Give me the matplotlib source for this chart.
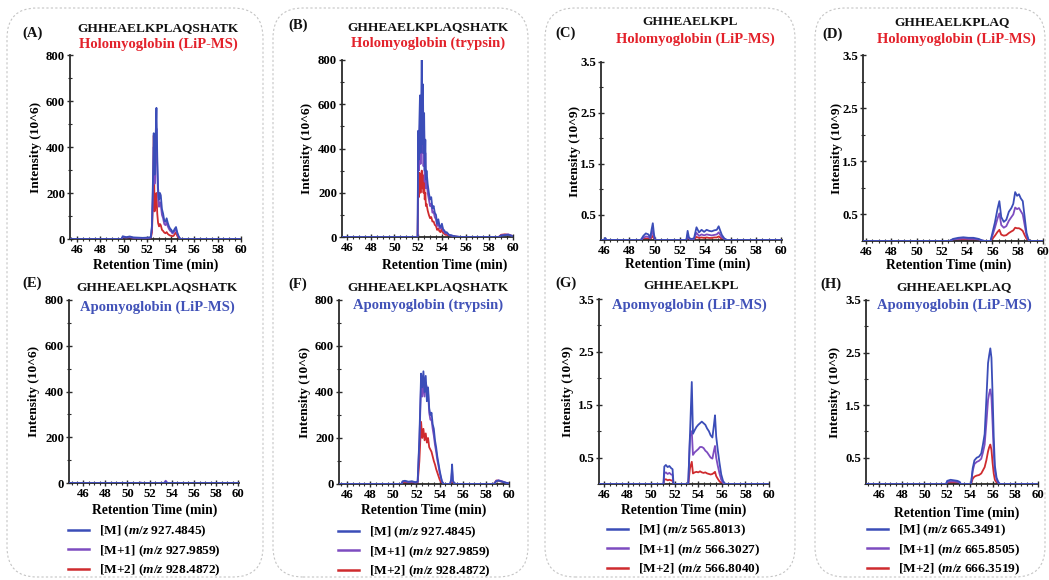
import matplotlib
matplotlib.use('Agg')
import matplotlib.pyplot as plt
from matplotlib.patches import FancyBboxPatch
from matplotlib.transforms import IdentityTransform
from matplotlib.ticker import MultipleLocator, FixedLocator

# ---------------- data ----------------
# Panel A: GHHEAELKPLAQSHATK, Holomyoglobin (LiP-MS), intensity 10^6
tA = [45.4, 49.8, 49.9, 50.2, 50.5, 50.8, 51.2, 51.6, 52.0, 52.3, 52.4, 52.5, 52.55, 52.62, 52.7, 52.78, 52.85, 52.92, 53.0, 53.08,
      53.15, 53.25, 53.35, 53.45, 53.55, 53.65, 53.75, 53.85, 53.95, 54.05, 54.15, 54.25, 54.35, 54.45, 54.55, 54.65, 54.75, 54.85, 60.0]
A0 = [0, 0, 12, 8, 11, 7, 6, 5, 6, 8, 60, 300, 460, 280, 420, 570, 360, 220, 170, 200,
      190, 130, 110, 80, 75, 90, 70, 55, 45, 40, 30, 35, 45, 52, 30, 15, 5, 0, 0]
A1 = [0, 0, 8, 6, 8, 5, 4, 4, 4, 6, 50, 250, 400, 240, 360, 480, 300, 180, 140, 160,
      150, 105, 90, 65, 60, 72, 55, 44, 36, 32, 24, 28, 36, 42, 24, 12, 4, 0, 0]
A2 = [0, 0, 4, 3, 4, 2, 2, 2, 2, 3, 30, 200, 450, 120, 140, 200, 110, 70, 55, 65,
      60, 40, 35, 28, 25, 30, 22, 18, 15, 14, 12, 14, 22, 28, 14, 6, 2, 0, 0]

# Panel B: GHHEAELKPLAQSHATK, Holomyoglobin (trypsin), intensity 10^6
tB = [45.6, 51.95, 52.0, 52.05, 52.1, 52.15, 52.2, 52.25, 52.3, 52.35, 52.4, 52.45, 52.5, 52.55, 52.6, 52.65, 52.7, 52.8, 52.9, 53.0,
      53.1, 53.2, 53.3, 53.4, 53.5, 53.6, 53.7, 53.8, 53.9, 54.0, 54.1, 54.2, 54.3, 54.4, 54.6, 54.8, 55.0, 55.3, 55.6, 58.8,
      59.0, 59.3, 59.6, 59.9]
B0 = [0, 0, 480, 350, 520, 640, 380, 560, 830, 420, 690, 380, 560, 300, 440, 260, 300, 240, 200, 170,
      180, 130, 140, 110, 100, 60, 80, 50, 45, 60, 35, 30, 20, 22, 10, 8, 4, 2, 0, 0,
      6, 8, 10, 5]
B1 = [0, 0, 400, 300, 450, 520, 330, 480, 600, 380, 650, 320, 480, 250, 380, 220, 260, 200, 170, 140,
      150, 110, 115, 90, 80, 50, 65, 40, 38, 50, 28, 25, 16, 18, 8, 6, 3, 1, 0, 0,
      8, 10, 12, 6]
B2 = [0, 0, 200, 180, 290, 250, 200, 260, 300, 220, 280, 200, 250, 170, 200, 140, 150, 120, 100, 85,
      90, 70, 70, 55, 50, 32, 38, 25, 22, 40, 18, 15, 10, 10, 5, 3, 2, 1, 0, 0,
      10, 12, 10, 5]

# Panel C: GHHEAELKPL, Holomyoglobin (LiP-MS), intensity 10^9
tC = [45.75, 46.0, 46.1, 46.2, 48.9, 49.1, 49.3, 49.5, 49.65, 49.75, 49.85, 49.95, 50.05, 52.5, 52.6, 52.7, 52.85, 53.1, 53.3, 53.4,
      53.5, 53.7, 53.9, 54.1, 54.3, 54.5, 54.7, 54.9, 55.05, 55.15, 55.3, 55.5, 55.7, 60.0]
C0 = [0, 0, 0.04, 0, 0, 0.08, 0.13, 0.11, 0.05, 0.2, 0.33, 0.1, 0, 0, 0.18, 0.05, 0.02, 0.03, 0.25, 0.2,
      0.15, 0.2, 0.16, 0.2, 0.18, 0.17, 0.19, 0.2, 0.27, 0.2, 0.1, 0.03, 0, 0]
C1 = [0, 0, 0.02, 0, 0, 0.04, 0.07, 0.06, 0.03, 0.11, 0.18, 0.05, 0, 0, 0.1, 0.03, 0.01, 0.02, 0.14, 0.11,
      0.08, 0.11, 0.09, 0.11, 0.1, 0.09, 0.1, 0.11, 0.15, 0.11, 0.05, 0.02, 0, 0]
C2 = [0, 0, 0.01, 0, 0, 0.02, 0.03, 0.03, 0.01, 0.05, 0.08, 0.02, 0, 0, 0.04, 0.01, 0, 0.01, 0.06, 0.05,
      0.04, 0.05, 0.04, 0.05, 0.04, 0.04, 0.05, 0.05, 0.07, 0.05, 0.02, 0.01, 0, 0]

# Panel D: GHHEAELKPLAQ, Holomyoglobin (LiP-MS), intensity 10^9
tD = [45.8, 52.6, 52.9, 53.3, 53.7, 54.1, 54.5, 54.9, 55.2, 55.4, 55.85, 56.0, 56.2, 56.4, 56.55, 56.7, 56.9, 57.1, 57.3, 57.5,
      57.65, 57.8, 57.95, 58.1, 58.25, 58.4, 58.55, 58.7, 58.85, 59.0, 60.0]
D0 = [0, 0, 0.04, 0.06, 0.07, 0.06, 0.06, 0.04, 0.01, 0, 0, 0.15, 0.35, 0.6, 0.75, 0.45, 0.36, 0.4, 0.55, 0.62,
      0.7, 0.92, 0.85, 0.88, 0.8, 0.75, 0.45, 0.15, 0.03, 0, 0]
D1 = [0, 0, 0.03, 0.04, 0.05, 0.04, 0.04, 0.03, 0.01, 0, 0, 0.1, 0.25, 0.42, 0.52, 0.3, 0.25, 0.28, 0.38, 0.45,
      0.5, 0.63, 0.6, 0.62, 0.56, 0.5, 0.3, 0.1, 0.02, 0, 0]
D2 = [0, 0, 0.01, 0.02, 0.02, 0.02, 0.02, 0.01, 0, 0, 0, 0.04, 0.1, 0.17, 0.21, 0.12, 0.1, 0.11, 0.15, 0.18,
      0.2, 0.25, 0.24, 0.24, 0.22, 0.19, 0.11, 0.04, 0.01, 0, 0]

# Panel E: GHHEAELKPLAQSHATK, Apomyoglobin (LiP-MS), intensity 10^6
tE = [44.75, 51.1, 51.2, 51.3, 53.3, 53.45, 53.6, 60.0]
E0 = [0, 0, 1, 0, 0, 4, 0, 0]
E1 = [0, 0, 2, 0, 0, 10, 0, 0]
E2 = [0, 0, 1, 0, 0, 3, 0, 0]

# Panel F: GHHEAELKPLAQSHATK, Apomyoglobin (trypsin), intensity 10^6
tF = [45.3, 50.7, 50.8, 51.0, 51.3, 51.6, 51.9, 52.1, 52.25, 52.4, 52.5, 52.6, 52.7, 52.8, 52.9, 53.0, 53.1, 53.2, 53.3, 53.4,
      53.5, 53.6, 53.7, 53.8, 53.9, 54.0, 54.1, 54.2, 54.35, 54.9, 55.0, 55.08, 55.15, 55.25, 55.4, 58.7, 58.9, 59.1, 59.4, 59.7,
      60.0]
F0 = [0, 0, 12, 14, 10, 12, 8, 10, 200, 480, 420, 490, 400, 470, 360, 420, 330, 300, 310, 260,
      240, 190, 160, 120, 90, 60, 35, 12, 0, 0, 20, 85, 15, 5, 0, 0, 12, 15, 10, 6,
      2]
F1 = [0, 0, 10, 12, 8, 10, 6, 8, 180, 440, 380, 450, 380, 440, 420, 400, 310, 280, 280, 240,
      210, 170, 140, 105, 80, 50, 30, 10, 0, 0, 15, 60, 12, 4, 0, 0, 14, 16, 12, 6,
      2]
F2 = [0, 0, 5, 6, 4, 5, 3, 4, 100, 270, 200, 240, 190, 220, 180, 200, 160, 150, 140, 120,
      100, 85, 65, 50, 35, 20, 10, 3, 0, 0, 5, 15, 5, 2, 0, 0, 15, 14, 10, 5,
      2]

# Panel G: GHHEAELKPL, Apomyoglobin (LiP-MS), intensity 10^9
tG = [45.6, 51.05, 51.12, 51.25, 51.4, 51.55, 51.7, 51.82, 51.9, 53.15, 53.3, 53.45, 53.55, 53.7, 53.85, 54.0, 54.15, 54.3, 54.45, 54.6,
      54.75, 54.9, 55.05, 55.2, 55.32, 55.42, 55.52, 55.65, 55.8, 55.95, 56.1, 56.25, 56.4, 60.0]
G0 = [0, 0, 0.33, 0.36, 0.32, 0.34, 0.3, 0.28, 0, 0, 0.95, 1.93, 0.95, 1.02, 1.08, 1.12, 1.15, 1.18, 1.15, 1.12,
      1.05, 1.0, 0.92, 0.88, 1.1, 1.3, 0.9, 0.65, 0.4, 0.18, 0.06, 0.01, 0, 0]
G1 = [0, 0, 0.2, 0.22, 0.19, 0.21, 0.18, 0.17, 0, 0, 0.9, 1.0, 0.55, 0.6, 0.63, 0.66, 0.7, 0.7, 0.68, 0.63,
      0.6, 0.55, 0.5, 0.48, 0.62, 0.72, 0.5, 0.35, 0.2, 0.08, 0.02, 0, 0, 0]
G2 = [0, 0, 0.08, 0.09, 0.07, 0.08, 0.07, 0.06, 0, 0, 0.3, 0.42, 0.2, 0.22, 0.23, 0.22, 0.24, 0.22, 0.21, 0.22,
      0.2, 0.19, 0.18, 0.19, 0.21, 0.23, 0.15, 0.1, 0.05, 0.02, 0, 0, 0, 0]

# Panel H: GHHEAELKPLAQ, Apomyoglobin (LiP-MS), intensity 10^9
tH = [44.85, 51.9, 52.0, 52.3, 52.6, 52.9, 53.1, 53.2, 54.1, 54.25, 54.4, 54.6, 54.8, 55.0, 55.15, 55.3, 55.45, 55.6, 55.7, 55.8,
      55.9, 56.0, 56.1, 56.2, 56.35, 56.5, 56.65, 60.0]
H0 = [0, 0, 0.06, 0.08, 0.07, 0.06, 0.04, 0, 0, 0.3, 0.45, 0.5, 0.52, 0.58, 0.75, 0.95, 1.6, 2.3, 2.45, 2.58,
      2.4, 1.7, 0.9, 0.35, 0.12, 0.04, 0, 0]
H1 = [0, 0, 0.04, 0.05, 0.05, 0.04, 0.03, 0, 0, 0.25, 0.38, 0.42, 0.44, 0.48, 0.6, 0.75, 1.15, 1.6, 1.72, 1.8,
      1.65, 1.15, 0.6, 0.25, 0.08, 0.02, 0, 0]
H2 = [0, 0, 0.02, 0.02, 0.02, 0.02, 0.01, 0, 0, 0.1, 0.14, 0.16, 0.17, 0.2, 0.26, 0.32, 0.45, 0.62, 0.7, 0.75,
      0.65, 0.4, 0.2, 0.08, 0.03, 0, 0, 0]

peptides = ["GHHEAELKPLAQSHATK", "GHHEAELKPLAQSHATK", "GHHEAELKPL", "GHHEAELKPLAQ"]
top_conditions = ["Holomyoglobin (LiP-MS)", "Holomyoglobin (trypsin)", "Holomyoglobin (LiP-MS)", "Holomyoglobin (LiP-MS)"]
bottom_conditions = ["Apomyoglobin (LiP-MS)", "Apomyoglobin (trypsin)", "Apomyoglobin (LiP-MS)", "Apomyoglobin (LiP-MS)"]
isotope_names = ["[M]", "[M+1]", "[M+2]"]
mz_values = [
    ["927.4845", "927.9859", "928.4872"],
    ["927.4845", "927.9859", "928.4872"],
    ["565.8013", "566.3027", "566.8040"],
    ["665.3491", "665.8505", "666.3519"],
]
xticks = [46, 48, 50, 52, 54, 56, 58, 60]
yticks_e6 = [0, 200, 400, 600, 800]
yticks_e9 = [0.5, 1.5, 2.5, 3.5]

# ---------------- style ----------------
W, H = 1049, 580
plt.rcParams['font.family'] = ['Liberation Serif', 'DejaVu Serif']
plt.rcParams['font.weight'] = 'bold'
plt.rcParams['axes.labelweight'] = 'bold'
plt.rcParams['mathtext.fontset'] = 'custom'
plt.rcParams['mathtext.rm'] = 'Liberation Serif:weight=bold'
plt.rcParams['mathtext.it'] = 'Liberation Serif:style=italic:weight=bold'
plt.rcParams['mathtext.bf'] = 'Liberation Serif:weight=bold'

C_BLUE = '#3b4db8'
C_PURPLE = '#7d4cc0'
C_RED = '#cf2b2e'
T_RED = '#e3222b'
T_BLUE = '#4152b8'
SPINE = '#2b2b2b'

fig = plt.figure(figsize=(W / 100, H / 100), dpi=100)


def fx(px):
    return px / W


def fy(py):
    return 1 - py / H


# rounded dashed boxes around each column
for (x0, x1) in [(7, 263), (273, 528), (545, 795), (815, 1045)]:
    box = FancyBboxPatch((x0, H - 577), x1 - x0, 569,
                         boxstyle="round,pad=0,rounding_size=30",
                         transform=IdentityTransform(), fill=False,
                         ec='#c4c4c4', lw=0.8, ls=(0, (2, 2)))
    fig.add_artist(box)

layout = [
    # key, rect(l,t,r,b), xlim, data, unit, col, top?, pep_xy, cond_xy, letter_xy, ylab_x, xlab_xy
    ('A', (70, 55, 241, 239), (45.4, 60), (tA, A0, A1, A2), 6, 0, True, (158, 28), (158, 44), (22, 33), 36, (156, 265)),
    ('B', (342, 60, 513, 237), (45.57, 60), (tB, B0, B1, B2), 6, 1, True, (428, 27), (428, 43), (288, 25), 307, (445, 265)),
    ('C', (601, 62, 782, 240), (45.76, 60.05), (tC, C0, C1, C2), 9, 2, True, (690, 22), (695, 39), (555, 33), 575, (688, 264)),
    ('D', (863, 55, 1043, 241), (45.77, 60.0), (tD, D0, D1, D2), 9, 3, True, (952, 22), (956, 39), (822, 34), 837, (949, 265)),
    ('E', (69, 300, 239, 483), (44.74, 60.05), (tE, E0, E1, E2), 6, 0, False, (157, 287), (157, 307), (22, 283), 34, (155, 510)),
    ('F', (339, 300, 509, 484), (45.3, 60.0), (tF, F0, F1, F2), 6, 1, False, (428, 287), (428, 305), (288, 284), 305, (424, 510)),
    ('G', (599, 299, 769, 484), (45.58, 60.0), (tG, G0, G1, G2), 9, 2, False, (691, 286), (689, 305), (555, 283), 568, (684, 510)),
    ('H', (866, 300, 1038, 484), (44.85, 60.0), (tH, H0, H1, H2), 9, 3, False, (954, 287), (954, 305), (820, 284), 835, (957, 513)),
]

legend_pos = {0: (68, 524), 1: (338, 525), 2: (607, 523), 3: (867, 523)}

for (key, rect, xlim, data, unit, col, top, pep_xy, cond_xy, let_xy, ylab_x, xlab_xy) in layout:
    l, t, r, b = rect
    ax = fig.add_axes([fx(l), fy(b), fx(r) - fx(l), fy(t) - fy(b)])
    tt, y0, y1, y2 = data
    lr, = ax.plot(tt, y2, color=C_RED, lw=1.3, zorder=2)
    lp, = ax.plot(tt, y1, color=C_PURPLE, lw=1.3, zorder=3)
    lb, = ax.plot(tt, y0, color=C_BLUE, lw=1.3, zorder=4)
    ax.set_xlim(*xlim)
    if unit == 6:
        ax.set_ylim(0, 800)
        ax.yaxis.set_major_locator(FixedLocator(yticks_e6))
        ax.yaxis.set_minor_locator(MultipleLocator(100))
        ylabel = 'Intensity (10^6)'
    else:
        ax.set_ylim(0, 3.5)
        ax.yaxis.set_major_locator(FixedLocator(yticks_e9))
        ax.yaxis.set_minor_locator(MultipleLocator(0.5))
        ax.set_yticklabels([f'{v:.1f}' for v in yticks_e9])
        ylabel = 'Intensity (10^9)'
    ax.xaxis.set_major_locator(FixedLocator(xticks))
    ax.xaxis.set_minor_locator(MultipleLocator(0.5))
    for s in ['top', 'right']:
        ax.spines[s].set_visible(False)
    for s in ['left', 'bottom']:
        ax.spines[s].set_color(SPINE)
        ax.spines[s].set_linewidth(1.3)
    ax.tick_params(which='major', direction='inout', length=4, width=1.0, color=SPINE,
                   labelsize=9.2, pad=1.5)
    ax.tick_params(which='minor', direction='inout', length=2.5, width=0.8, color=SPINE)
    ax.set_facecolor('none')

    ax.set_ylabel(ylabel, fontsize=9.6, fontweight='bold')
    ax.yaxis.set_label_coords(fx(ylab_x), fy((t + b) / 2), transform=fig.transFigure)
    ax.set_xlabel('Retention Time (min)', fontsize=9.8, fontweight='bold')
    ax.xaxis.set_label_coords(fx(xlab_xy[0]), fy(xlab_xy[1]), transform=fig.transFigure)
    ax.xaxis.label.set_va('center')
    ax.yaxis.label.set_va('center')

    fig.text(fx(pep_xy[0]), fy(pep_xy[1]), peptides[col], ha='center', va='center',
             fontsize=9.6, fontweight='bold', color='#111111')
    cond = top_conditions[col] if top else bottom_conditions[col]
    fig.text(fx(cond_xy[0]), fy(cond_xy[1]), cond, ha='center', va='center',
             fontsize=10.5, fontweight='bold', color=T_RED if top else T_BLUE)
    fig.text(fx(let_xy[0]), fy(let_xy[1]), f'({key})', ha='left', va='center',
             fontsize=10.5, fontweight='bold', color='#111111')

    if not top:
        labels = [f'{isotope_names[i]} ($m/z$ {mz_values[col][i]})' for i in range(3)]
        lx, ly = legend_pos[col]
        leg = ax.legend([lb, lp, lr], labels, loc='upper left',
                        bbox_to_anchor=(fx(lx), fy(ly)), bbox_transform=fig.transFigure,
                        frameon=False, borderpad=0, borderaxespad=0, fontsize=9.6,
                        handlelength=1.6, handletextpad=0.75, labelspacing=0.3)
        for h in leg.get_lines():
            h.set_linewidth(1.8)

fig.savefig('out.png', dpi=100)
